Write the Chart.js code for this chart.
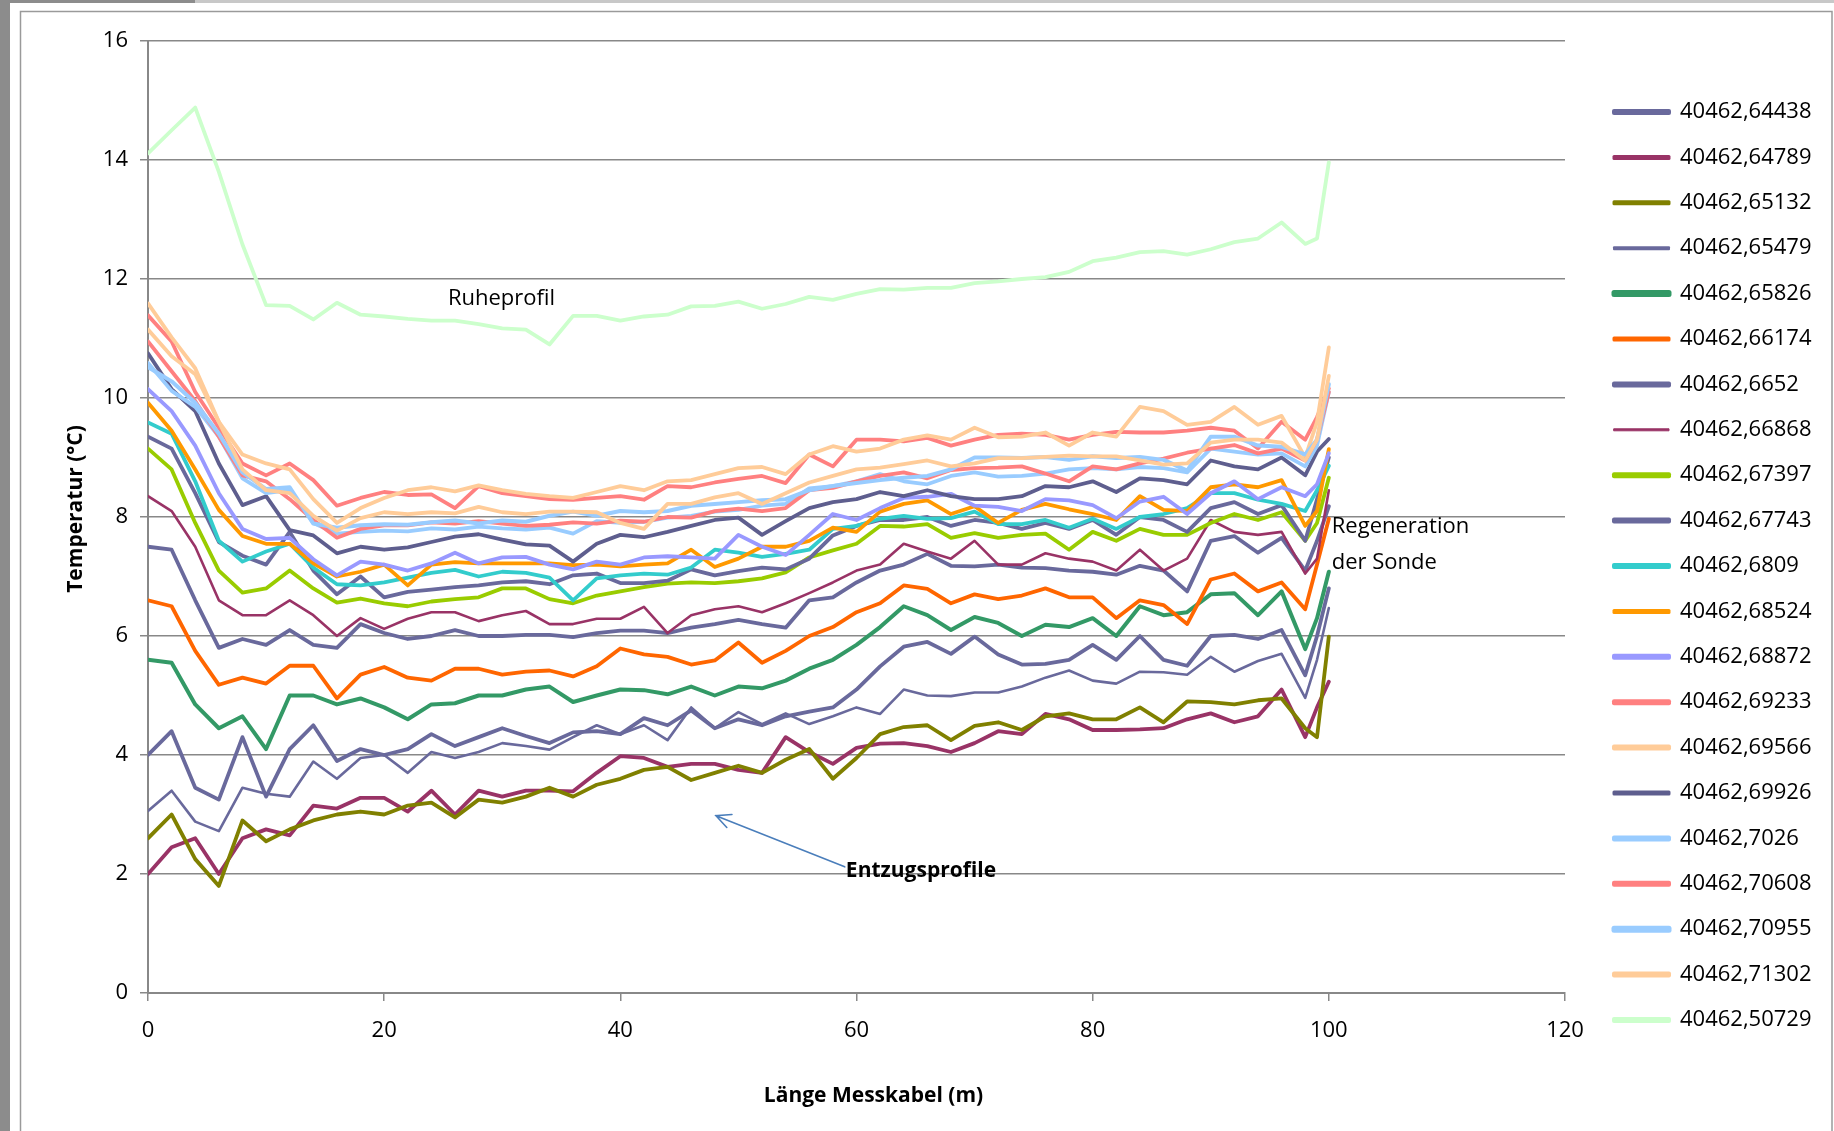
<!DOCTYPE html>
<html>
<head>
<meta charset="utf-8">
<script src="https://cdn.jsdelivr.net/npm/chart.js@4/dist/chart.umd.min.js"></script>
<style>
html,body{margin:0;padding:0;background:#fff;overflow:hidden}
#wrap{width:1834px;height:1131px;position:relative}
canvas{display:block}
</style>
</head>
<body>
<div id="wrap"><canvas id="c" width="1834" height="1131"></canvas></div>
<script>
// ---------- DATA ----------
const lengths = [0,2,4,6,8,10,12,14,16,18,20,22,24,26,28,30,32,34,36,38,40,42,44,46,48,50,52,54,56,58,60,62,64,66,68,70,72,74,76,78,80,82,84,86,88,90,92,94,96,98,99,100];

const xTickValues = [0,20,40,60,80,100,120];
const yTickValues = [0,2,4,6,8,10,12,14,16];

const seriesLabels = ['40462,64438','40462,64789','40462,65132','40462,65479','40462,65826','40462,66174','40462,6652','40462,66868','40462,67397','40462,67743','40462,6809','40462,68524','40462,68872','40462,69233','40462,69566','40462,69926','40462,7026','40462,70608','40462,70955','40462,71302','40462,50729'];

const s64438 = [4.0,4.4,3.45,3.25,4.3,3.3,4.1,4.5,3.9,4.1,4.0,4.1,4.35,4.15,4.3,4.45,4.32,4.2,4.38,4.4,4.35,4.62,4.5,4.75,4.45,4.6,4.5,4.65,4.73,4.8,5.1,5.49,5.82,5.9,5.7,5.99,5.69,5.52,5.53,5.6,5.85,5.6,6.0,5.6,5.5,6.0,6.02,5.95,6.1,5.34,6.0,6.8];
const s64789 = [2.0,2.45,2.6,2.0,2.6,2.75,2.65,3.15,3.1,3.28,3.28,3.05,3.4,3.0,3.4,3.3,3.4,3.4,3.39,3.7,3.98,3.95,3.8,3.85,3.85,3.75,3.7,4.3,4.05,3.85,4.12,4.19,4.2,4.15,4.05,4.2,4.4,4.35,4.69,4.6,4.42,4.42,4.43,4.45,4.6,4.7,4.55,4.65,5.1,4.3,4.8,5.23];
const s65132 = [2.6,3.0,2.25,1.8,2.9,2.55,2.75,2.9,3.0,3.05,3.0,3.15,3.2,2.95,3.25,3.2,3.3,3.45,3.3,3.5,3.6,3.75,3.8,3.58,3.7,3.82,3.7,3.92,4.1,3.6,3.95,4.35,4.47,4.5,4.25,4.49,4.55,4.42,4.65,4.7,4.6,4.6,4.8,4.55,4.9,4.89,4.85,4.92,4.95,4.45,4.3,5.99];
const s65479 = [3.06,3.4,2.88,2.72,3.45,3.35,3.3,3.89,3.6,3.95,4.0,3.7,4.05,3.95,4.05,4.2,4.15,4.09,4.3,4.5,4.35,4.5,4.25,4.8,4.45,4.72,4.52,4.7,4.52,4.65,4.8,4.69,5.1,5.0,4.99,5.05,5.05,5.15,5.3,5.42,5.25,5.2,5.4,5.39,5.35,5.65,5.4,5.58,5.7,4.96,5.6,6.47];
const s65826 = [5.6,5.55,4.85,4.45,4.65,4.1,5.0,5.0,4.85,4.95,4.8,4.6,4.85,4.87,5.0,5.0,5.1,5.15,4.89,5.0,5.1,5.09,5.02,5.15,5.0,5.15,5.12,5.25,5.45,5.6,5.85,6.15,6.5,6.35,6.1,6.32,6.22,6.0,6.19,6.15,6.3,6.0,6.5,6.35,6.4,6.7,6.72,6.35,6.75,5.78,6.3,7.08];
const s66174 = [6.6,6.5,5.75,5.18,5.3,5.2,5.5,5.5,4.95,5.35,5.48,5.3,5.25,5.45,5.45,5.35,5.4,5.42,5.32,5.49,5.79,5.69,5.65,5.52,5.59,5.89,5.55,5.75,6.0,6.15,6.4,6.55,6.85,6.79,6.55,6.7,6.62,6.68,6.8,6.65,6.65,6.3,6.6,6.52,6.2,6.95,7.05,6.75,6.9,6.45,7.2,7.97];
const s6652 = [7.5,7.45,6.6,5.8,5.95,5.85,6.1,5.85,5.8,6.2,6.05,5.95,6.0,6.1,6.0,6.0,6.02,6.02,5.98,6.05,6.09,6.09,6.05,6.14,6.2,6.27,6.2,6.14,6.6,6.65,6.9,7.1,7.2,7.38,7.18,7.17,7.2,7.15,7.14,7.1,7.08,7.03,7.18,7.1,6.75,7.6,7.68,7.4,7.65,7.1,7.6,8.18];
const s66868 = [8.35,8.1,7.5,6.6,6.35,6.35,6.6,6.35,6.0,6.3,6.12,6.29,6.4,6.4,6.25,6.35,6.42,6.2,6.2,6.29,6.29,6.49,6.05,6.35,6.45,6.5,6.4,6.55,6.72,6.9,7.1,7.2,7.55,7.42,7.3,7.6,7.2,7.2,7.39,7.3,7.25,7.1,7.45,7.1,7.3,7.95,7.75,7.7,7.75,7.05,7.3,8.45];
const s67397 = [9.15,8.8,7.9,7.1,6.73,6.8,7.1,6.8,6.56,6.63,6.55,6.5,6.58,6.62,6.65,6.8,6.8,6.62,6.55,6.68,6.75,6.82,6.88,6.9,6.89,6.92,6.97,7.07,7.32,7.44,7.55,7.85,7.84,7.88,7.65,7.73,7.65,7.7,7.72,7.45,7.75,7.6,7.8,7.7,7.7,7.9,8.05,7.95,8.08,7.6,7.9,8.66];
const s67743 = [9.35,9.15,8.4,7.58,7.35,7.2,7.75,7.1,6.7,7.0,6.65,6.74,6.78,6.82,6.85,6.9,6.92,6.87,7.02,7.05,6.89,6.89,6.93,7.12,7.02,7.09,7.15,7.12,7.3,7.69,7.85,7.95,7.95,8.0,7.85,7.95,7.9,7.8,7.9,7.8,7.95,7.7,8.0,7.95,7.75,8.15,8.25,8.05,8.2,7.6,8.3,9.0];
const s6809 = [9.59,9.4,8.6,7.6,7.25,7.42,7.55,7.15,6.87,6.85,6.9,6.98,7.06,7.11,7.0,7.08,7.06,6.98,6.6,6.97,7.02,7.05,7.03,7.15,7.45,7.4,7.33,7.38,7.45,7.8,7.85,7.97,8.02,7.97,7.98,8.09,7.88,7.88,7.95,7.82,7.97,7.8,8.0,8.05,8.15,8.4,8.4,8.29,8.22,8.1,8.45,8.86];
const s68524 = [9.92,9.45,8.8,8.12,7.68,7.55,7.55,7.22,7.0,7.08,7.2,6.85,7.2,7.24,7.22,7.22,7.22,7.22,7.19,7.2,7.17,7.2,7.22,7.45,7.16,7.3,7.5,7.5,7.6,7.82,7.75,8.09,8.22,8.28,8.05,8.18,7.9,8.12,8.22,8.13,8.05,7.95,8.35,8.12,8.1,8.5,8.55,8.5,8.62,7.85,8.1,9.14];
const s68872 = [10.15,9.78,9.2,8.4,7.8,7.63,7.65,7.29,7.02,7.25,7.2,7.1,7.22,7.4,7.22,7.32,7.33,7.2,7.12,7.25,7.2,7.32,7.34,7.32,7.3,7.7,7.5,7.36,7.7,8.05,7.95,8.15,8.32,8.34,8.39,8.19,8.17,8.1,8.3,8.28,8.2,7.98,8.26,8.34,8.05,8.4,8.6,8.3,8.5,8.35,8.55,9.07];
const s69233 = [11.39,10.95,10.1,9.5,8.9,8.7,8.9,8.62,8.19,8.32,8.42,8.37,8.38,8.15,8.52,8.4,8.35,8.3,8.29,8.32,8.35,8.29,8.52,8.5,8.58,8.64,8.69,8.57,9.05,8.85,9.3,9.3,9.27,9.33,9.2,9.3,9.38,9.4,9.38,9.3,9.38,9.43,9.42,9.42,9.45,9.5,9.45,9.15,9.6,9.3,9.68,10.16];
const s69566 = [11.59,11.02,10.5,9.6,9.05,8.9,8.8,8.3,7.9,8.15,8.32,8.45,8.5,8.43,8.53,8.45,8.39,8.35,8.32,8.42,8.52,8.45,8.6,8.62,8.72,8.82,8.84,8.72,9.05,9.19,9.1,9.15,9.3,9.37,9.3,9.5,9.34,9.35,9.42,9.2,9.42,9.35,9.85,9.78,9.55,9.6,9.85,9.55,9.7,9.0,9.6,10.85];
const s69926 = [10.75,10.15,9.78,8.9,8.2,8.35,7.78,7.69,7.39,7.5,7.45,7.49,7.58,7.67,7.71,7.62,7.54,7.52,7.25,7.55,7.7,7.66,7.75,7.85,7.95,7.99,7.7,7.93,8.15,8.25,8.3,8.42,8.35,8.45,8.35,8.3,8.3,8.35,8.52,8.5,8.6,8.42,8.65,8.62,8.55,8.95,8.85,8.8,9.0,8.7,9.1,9.31];
const s7026 = [10.59,10.12,9.85,9.35,8.65,8.4,8.45,7.9,7.72,7.75,7.77,7.76,7.81,7.79,7.84,7.81,7.79,7.82,7.72,7.93,7.9,7.92,7.99,8.02,8.09,8.12,8.19,8.22,8.48,8.52,8.6,8.72,8.6,8.55,8.69,8.75,8.68,8.69,8.73,8.8,8.82,8.8,8.84,8.82,8.75,9.15,9.1,9.05,9.07,8.85,9.2,10.1];
const s70608 = [10.95,10.45,9.95,9.35,8.7,8.6,8.3,7.95,7.65,7.8,7.86,7.86,7.91,7.89,7.93,7.89,7.85,7.87,7.91,7.89,7.94,7.92,8.0,7.99,8.1,8.14,8.1,8.15,8.45,8.49,8.6,8.69,8.75,8.65,8.79,8.82,8.83,8.85,8.73,8.6,8.85,8.8,8.9,8.98,9.08,9.15,9.21,9.07,9.15,8.95,9.3,10.1];
const s70955 = [10.52,10.28,9.92,9.4,8.75,8.47,8.5,7.89,7.82,7.86,7.88,7.87,7.91,7.94,7.89,7.94,7.92,8.02,8.09,8.02,8.1,8.08,8.1,8.19,8.22,8.25,8.28,8.3,8.45,8.52,8.57,8.62,8.66,8.69,8.8,9.0,9.0,8.99,9.01,8.96,9.02,8.99,9.01,8.96,8.78,9.35,9.35,9.2,9.18,9.05,9.3,10.23];
const s71302 = [11.15,10.7,10.4,9.6,8.8,8.45,8.4,8.02,7.77,7.98,8.08,8.05,8.08,8.06,8.17,8.08,8.05,8.09,8.09,8.08,7.9,7.8,8.22,8.22,8.33,8.4,8.22,8.4,8.58,8.69,8.8,8.83,8.89,8.95,8.85,8.9,8.99,8.99,9.01,9.03,9.02,9.02,8.95,8.88,8.9,9.25,9.3,9.3,9.25,8.95,9.3,10.37];
const s50729 = [14.11,14.5,14.88,13.8,12.58,11.56,11.55,11.32,11.6,11.4,11.37,11.33,11.3,11.3,11.24,11.17,11.15,10.9,11.38,11.38,11.3,11.37,11.4,11.54,11.55,11.62,11.5,11.58,11.7,11.65,11.75,11.83,11.82,11.85,11.85,11.93,11.96,12.0,12.03,12.12,12.3,12.36,12.45,12.47,12.41,12.5,12.62,12.68,12.95,12.59,12.68,13.96];

const seriesValues = [s64438,s64789,s65132,s65479,s65826,s66174,s6652,s66868,s67397,s67743,s6809,s68524,s68872,s69233,s69566,s69926,s7026,s70608,s70955,s71302,s50729];

// ---------- STYLE ----------
const seriesColors = ['#69699c','#993366','#808000','#69699c','#339966','#ff6600','#69699c','#993366','#99cc00','#69699c','#33cccc','#ff9900','#9999ff','#ff8080','#ffcc99','#5e5e8e','#99ccff','#ff8080','#99ccff','#ffcc99','#ccffcc'];
const seriesWidths = [3.8,3.8,3.8,2.6,4,3.8,3.8,2.6,3.8,3.8,3.8,3.8,3.8,3.8,3.8,3.8,3.8,3.8,4,3.8,3.8];
const legendThick = [6,5,5,4,7,5,6,3,6,6,6,5,6,6,6,5,6,6,7,6,6];

const FONT = "'Open Sans', 'Liberation Sans', sans-serif";
const GRID = '#888888';
const LEG_BOX_H = 2;

const datasets = seriesValues.map((vals, i) => ({
  label: seriesLabels[i],
  data: vals.map((v, k) => ({x: lengths[k], y: v})),
  borderColor: seriesColors[i],
  backgroundColor: seriesColors[i],
  borderWidth: seriesWidths[i],
  pointRadius: 0,
  pointHoverRadius: 0,
  tension: 0,
  fill: false,
  borderJoinStyle: 'round',
  borderCapStyle: 'round',
  order: 100 - i
}));

const framePlugin = {
  id: 'frame',
  beforeDraw(chart) {
    const ctx = chart.ctx, W = chart.width, H = chart.height;
    ctx.save();
    ctx.fillStyle = '#ffffff';
    ctx.fillRect(0, 0, W, H);
    ctx.fillStyle = '#8c8c8c';
    ctx.fillRect(0, 0, 10, H);
    ctx.fillRect(0, 0, 195, 3);
    ctx.fillStyle = '#c8c8c8';
    ctx.fillRect(195, 0, W - 195, 3);
    ctx.strokeStyle = '#9a9a9a';
    ctx.lineWidth = 1.5;
    ctx.beginPath();
    ctx.moveTo(20.5, H);
    ctx.lineTo(20.5, 11.5);
    ctx.lineTo(1832, 11.5);
    ctx.lineTo(1832, H);
    ctx.stroke();
    ctx.restore();
  }
};

// keeps the legend column and the axis titles where the reference has them
const placer = {
  id: 'placer',
  beforeLayout(chart) {
    const lg = chart.legend;
    if (lg && !lg._fixedFit) {
      const orig = lg.fit.bind(lg);
      lg.fit = function () { orig(); this.width = 1834 - 1565; };
      lg._fixedFit = true;
    }
  },
  afterLayout(chart) {
    const lg = chart.legend;
    if (lg) {
      const pad = lg.options.labels.padding;
      lg.left = 1614 - pad;
      lg.right = lg.left + lg.width;
      lg.top = 101 - pad;
    }
    const shift = (sc, dx, dy) => {
      if (!sc || sc._titleShifted) return;
      const orig = sc.drawTitle.bind(sc);
      sc.drawTitle = function () {
        this.ctx.save();
        this.ctx.translate(dx, dy);
        orig();
        this.ctx.restore();
      };
      sc._titleShifted = true;
    };
    shift(chart.scales.x, 17, 0);
    shift(chart.scales.y, 0, -8);
  }
};

const notes = {
  rest: {text: 'Ruheprofil', x: 25.4, y: 11.66},
  regen1: {text: 'Regeneration', x: 100.25, y: 7.83},
  regen2: {text: 'der Sonde', x: 100.25, y: 7.23},
  extract: {text: 'Entzugsprofile', x: 59.1, y: 2.05},
  arrowFrom: {x: 59.0, y: 2.12},
  arrowTo: {x: 48.1, y: 2.98}
};

const annotationPlugin = {
  id: 'annotations',
  afterDraw(chart) {
    const ctx = chart.ctx, xs = chart.scales.x, ys = chart.scales.y;
    const px = v => xs.getPixelForValue(v), py = v => ys.getPixelForValue(v);
    ctx.save();
    const x1 = px(notes.arrowFrom.x), y1 = py(notes.arrowFrom.y);
    const x2 = px(notes.arrowTo.x), y2 = py(notes.arrowTo.y);
    ctx.strokeStyle = '#4a7ebb';
    ctx.lineWidth = 1.6;
    ctx.lineCap = 'round';
    ctx.beginPath();
    ctx.moveTo(x1, y1);
    ctx.lineTo(x2, y2);
    const ang = Math.atan2(y1 - y2, x1 - x2);
    const L = 16, a = 0.45;
    ctx.moveTo(x2 + L * Math.cos(ang + a), y2 + L * Math.sin(ang + a));
    ctx.lineTo(x2, y2);
    ctx.lineTo(x2 + L * Math.cos(ang - a), y2 + L * Math.sin(ang - a));
    ctx.stroke();
    ctx.fillStyle = '#000';
    ctx.textAlign = 'left';
    ctx.textBaseline = 'middle';
    ctx.font = '22px ' + FONT;
    [notes.rest, notes.regen1, notes.regen2].forEach(n => ctx.fillText(n.text, px(n.x), py(n.y)));
    ctx.font = 'bold 21px ' + FONT;
    ctx.fillText(notes.extract.text, px(notes.extract.x), py(notes.extract.y));
    ctx.restore();
  }
};

Chart.defaults.font.family = FONT;
Chart.defaults.color = '#000';

new Chart(document.getElementById('c'), {
  type: 'line',
  data: {datasets},
  options: {
    responsive: false,
    animation: false,
    events: [],
    layout: {padding: {left: 20, top: 41, right: 0, bottom: 0}},
    plugins: {
      tooltip: {enabled: false},
      legend: {
        display: true,
        position: 'right',
        align: 'start',
        labels: {
          font: {size: 22, family: FONT},
          color: '#000',
          boxWidth: 55,
          boxHeight: LEG_BOX_H,
          padding: 23.4,
          sort: (a, b) => a.datasetIndex - b.datasetIndex,
          generateLabels(chart) {
            return chart.data.datasets.map((ds, i) => ({
              text: ds.label,
              datasetIndex: i,
              fillStyle: ds.borderColor,
              strokeStyle: ds.borderColor,
              lineWidth: legendThick[i] - LEG_BOX_H,
              lineCap: 'round',
              lineJoin: 'round',
              hidden: false,
              fontColor: '#000'
            }));
          }
        }
      }
    },
    scales: {
      x: {
        type: 'linear',
        min: 0,
        max: 120,
        afterFit(s) { s.height = 138; },
        afterBuildTicks(s) { s.ticks = xTickValues.map(v => ({value: v})); },
        ticks: {font: {size: 22}, color: '#000', padding: 17, maxRotation: 0, autoSkip: false},
        grid: {drawOnChartArea: false, drawTicks: true, tickLength: 8, color: GRID, lineWidth: 1.5},
        border: {display: true, color: GRID, width: 2},
        title: {display: true, text: 'Länge Messkabel (m)', font: {size: 21, weight: 'bold'}, color: '#000', padding: {top: 0, bottom: 22}}
      },
      y: {
        type: 'linear',
        min: 0,
        max: 16,
        afterFit(s) { s.width = 128; },
        afterBuildTicks(s) { s.ticks = yTickValues.map(v => ({value: v})); },
        ticks: {font: {size: 22}, color: '#000', padding: 12, autoSkip: false},
        grid: {drawOnChartArea: true, drawTicks: true, tickLength: 8, color: GRID, lineWidth: 1.5},
        border: {display: true, color: GRID, width: 2},
        title: {display: true, text: 'Temperatur (°C)', font: {size: 21, weight: 'bold'}, color: '#000', padding: {top: 43, bottom: 0}}
      }
    }
  },
  plugins: [framePlugin, placer, annotationPlugin]
});
</script>
</body>
</html>
